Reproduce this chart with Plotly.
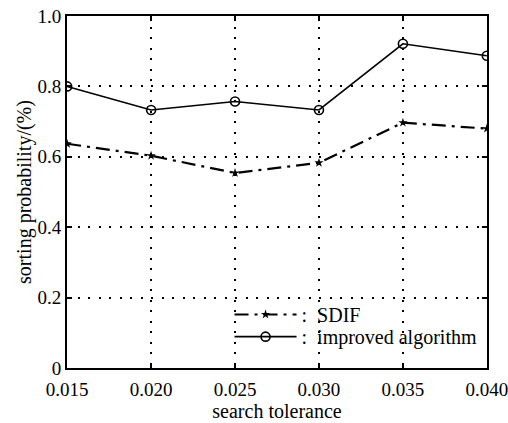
import plotly.graph_objects as go

tolerance = [0.015, 0.020, 0.025, 0.030, 0.035, 0.040]
sdif = [0.637, 0.603, 0.554, 0.583, 0.697, 0.680]
improved = [0.800, 0.733, 0.757, 0.733, 0.921, 0.887]
x_ticks = ["0.015", "0.020", "0.025", "0.030", "0.035", "0.040"]
y_vals = [0, 0.2, 0.4, 0.6, 0.8, 1.0]
y_ticks = ["0", "0.2", "0.4", "0.6", "0.8", "1.0"]

font = "Liberation Serif, Times New Roman, serif"

fig = go.Figure()
fig.add_trace(go.Scatter(
    x=tolerance, y=sdif, name=":  SDIF", mode="lines+markers",
    line=dict(color="black", width=2.2, dash="14px,6px,3px,6px"),
    marker=dict(symbol="star", size=7, color="black"),
    legend="legend",
))
fig.add_trace(go.Scatter(
    x=tolerance, y=improved, name=":  improved algorithm", mode="lines+markers",
    line=dict(color="black", width=1.6),
    marker=dict(symbol="circle-open", size=9, color="black", line=dict(width=1.6)),
    legend="legend2",
))

axis_common = dict(
    showline=True, linecolor="black", linewidth=2, mirror="ticks",
    ticks="inside", ticklen=5, tickwidth=1.5, tickcolor="black",
    showgrid=True, gridcolor="black", gridwidth=2, griddash="2px,8.5px",
    zeroline=False, tickfont=dict(family=font, size=19, color="black"),
    automargin=False, ticklabeloverflow="allow",
)

fig.update_xaxes(
    range=[0.01499, 0.04001], tickvals=tolerance, ticktext=x_ticks,
    ticklabelstandoff=3,
    title=dict(text="search tolerance", font=dict(family=font, size=20, color="black"), standoff=0),
    **axis_common,
)
fig.update_yaxes(
    range=[0, 1.0], tickvals=y_vals, ticktext=y_ticks,
    title=dict(text="sorting probability/(%)", font=dict(family=font, size=20, color="black"), standoff=0),
    **axis_common,
)

legend_common = dict(
    xanchor="left", yanchor="middle", x=0.387,
    bgcolor="rgba(0,0,0,0)", font=dict(family=font, size=20, color="black"),
    itemwidth=62, borderwidth=0,
)

fig.update_layout(
    width=508, height=423,
    margin=dict(l=67, r=21, t=16, b=55),
    plot_bgcolor="white", paper_bgcolor="white",
    font=dict(family=font, color="black"),
    showlegend=True,
    legend=dict(y=0.152, **legend_common),
    legend2=dict(y=0.089, **legend_common),
)

fig.write_html("out.html", config={"displayModeBar": False},
               post_script="document.body.style.margin='0';")
